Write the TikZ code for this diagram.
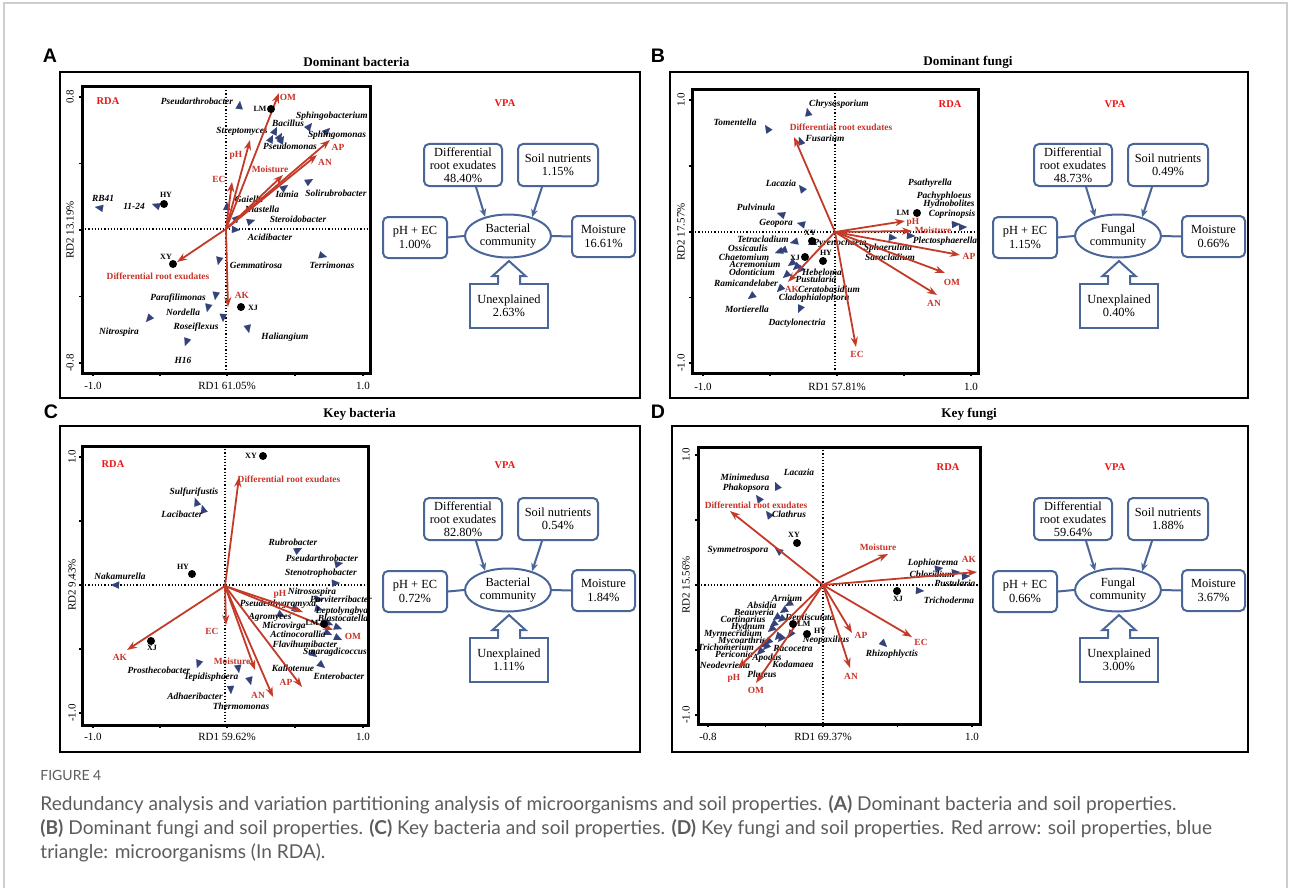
\documentclass[tikz,border=0pt]{standalone}
\usepackage{fontspec}
\setmainfont{Liberation Serif}
\newfontfamily\capfont{Lato}
\newfontfamily\panelfont{Liberation Sans}
\usetikzlibrary{arrows.meta,calc,shapes.geometric}
\definecolor{arrowred}{RGB}{196,58,40}
\definecolor{labred}{RGB}{200,52,40}
\definecolor{rdared}{RGB}{235,20,20}
\definecolor{trinavy}{RGB}{52,66,122}
\definecolor{vpablue}{RGB}{74,102,152}
\definecolor{capgray}{RGB}{92,92,92}
\definecolor{framegray}{RGB}{205,205,205}
\tikzset{
  panelbox/.style={draw=black,line width=1.3pt},
  plotbox/.style={draw=black,line width=1.5pt},
  tickmark/.style={draw=black,line width=0.8pt},
  zeroline/.style={densely dotted,line width=0.6pt},
  prop/.style={draw=arrowred,line width=0.9pt,-{Stealth[length=5pt,width=3.6pt]}},
  proplab/.style={text=labred,font=\bfseries\fontsize{4.7}{5}\selectfont,inner sep=0pt},
  splab/.style={font=\bfseries\itshape\fontsize{4.7}{5}\selectfont,inner sep=0pt},
  sptri/.style={draw=trinavy,line width=0.01pt,-{Triangle[length=4pt,width=3.6pt]}},
  site/.style={circle,fill=black,inner sep=0pt,minimum size=4pt},
  sitelab/.style={font=\bfseries\fontsize{4}{4.5}\selectfont,inner sep=0pt},
  ticklab/.style={font=\fontsize{5.5}{6}\selectfont,inner sep=0pt},
  tag/.style={text=rdared,font=\bfseries\fontsize{5.2}{6}\selectfont,inner sep=0pt},
  paneltitle/.style={font=\bfseries\fontsize{6.6}{7}\selectfont,inner sep=0pt,anchor=west},
  panelletter/.style={font=\panelfont\bfseries\fontsize{9.8}{10}\selectfont,inner sep=0pt},
  vpabox/.style={draw=vpablue,line width=1pt,rounded corners=2.5pt,align=center,
    font=\fontsize{6.2}{6.6}\selectfont,inner sep=0pt},
  vpaline/.style={draw=vpablue,line width=1pt},
  vpaarrow/.style={vpaline,-{Stealth[length=4pt,width=3.4pt]}},
  caption/.style={font=\capfont\fontsize{9.55}{10}\selectfont,text=capgray,inner sep=0pt,anchor=west}
}
\begin{document}
\begin{tikzpicture}[x=0.5pt,y=-0.5pt]
  \useasboundingbox (0,0) rectangle (1290,888);
  \draw[framegray,line width=0.6pt] (4,888) -- (4,3) -- (1287,3) -- (1287,888);

  % frames, titles and axes
  \draw[panelbox] (60,72) rectangle (640,398);
  \draw[panelbox] (670,72) rectangle (1248,398);
  \draw[panelbox] (60,426) rectangle (640,752);
  \draw[panelbox] (672,426) rectangle (1248,752);
  \node[panelletter] (letA) at (50,56) {A};
  \node[panelletter] (letB) at (658,56) {B};
  \node[panelletter] (letC) at (51,412) {C};
  \node[panelletter] (letD) at (658,412) {D};
  \node[paneltitle] (titA) at (303,62) {Dominant bacteria};
  \node[paneltitle] (titB) at (923,62) {Dominant fungi};
  \node[paneltitle] (titC) at (323,414) {Key bacteria};
  \node[paneltitle] (titD) at (941,414) {Key fungi};

  \foreach \p/\xa/\ya/\xb/\yb/\xz/\yz/\xl/\yl/\txl/\txm/\txr/\tyt/\tym/\tyb/\lxl/\lxm/\lxr/\lyt/\lyb/\xt/\yt in {
      A/82/87/370/373/226/229/386/70/93/227/363/97/230/363/-1.0/RD1 61.05\%/1.0/0.8/-0.8/108/101,
      B/692/90/978/373/835/232/387/681/703/837/971/100/232/363/-1.0/RD1 57.81\%/1.0/1.0/-1.0/950/104,
      C/82/446/368/725/225/585/737/72/93/227/363/457/585/713/-1.0/RD1 59.62\%/1.0/1.0/-1.0/113/464,
      D/698/447/980/724/823/585/737/686/708/823/972/455/585/715/-0.8/RD1 69.37\%/1.0/1.0/-1.0/948/467} {
    \draw[zeroline] (\xz,\ya) -- (\xz,\yb);
    \draw[zeroline] (\xa,\yz) -- (\xb,\yz);
    \draw[plotbox] (\xa,\ya) rectangle (\xb,\yb);
    \foreach \t in {\txl,\txm,\txr} \draw[tickmark] (\t,\yb) -- (\t,\yb+3);
    \foreach \t in {\tyt,\tym,\tyb} \draw[tickmark] (\xa,\t) -- (\xa-3,\t);
    \draw[tickmark] ({(\txl+\txm)/2},\yb) -- ({(\txl+\txm)/2},\yb+3);
    \draw[tickmark] ({(\txm+\txr)/2},\yb) -- ({(\txm+\txr)/2},\yb+3);
    \draw[tickmark] (\xa,{(\tyt+\tym)/2}) -- (\xa-3,{(\tyt+\tym)/2});
    \draw[tickmark] (\xa,{(\tym+\tyb)/2}) -- (\xa-3,{(\tym+\tyb)/2});
    \node[ticklab] (xl\p) at (\txl,\xl) {\lxl};
    \node[ticklab] (xm\p) at (\txm,\xl) {\lxm};
    \node[ticklab] (xr\p) at (\txr,\xl) {\lxr};
    \node[ticklab,rotate=90] (yt\p) at (\yl,\tyt) {\lyt};
    \node[ticklab,rotate=90] (yb\p) at (\yl,\tyb) {\lyb};
    \node[tag] (rda\p) at (\xt,\yt) {RDA};
  }
  \node[ticklab,rotate=90] (ymA) at (70,230) {RD2 13.19\%};
  \node[ticklab,rotate=90] (ymB) at (681,232) {RD2 17.57\%};
  \node[ticklab,rotate=90] (ymC) at (72,585) {RD2 9.43\%};
  \node[ticklab,rotate=90] (ymD) at (686,585) {RD2 15.56\%};

  % panel A
  \coordinate (oA) at (226,229);
  \foreach \px/\py in {240/101,312/123,277/127,282/133,273/135,330/128,284/136,288/185,313/179,95/207,
      152/204,227/202,240/215,255/220,240/230,218/265,327/257,215/300,207/312,146/322,223/322,249/333,185/346}
    \draw[sptri] ($(\px,\py)!2pt!(oA)$) -- (\px,\py);
  \foreach \lx/\ly/\lab [count=\i] in {197/101/Pseudarthrobacter,332/116/Sphingobacterium,288/123/Bacillus,
      242/131/Streptomyces,337/135/Sphingomonas,290/146/Pseudomonas,287/194/Iamia,336/193/Solirubrobacter,
      103/198/RB41,134/206/11-24,249/199/Gaiella,262/209/Niastella,298/219/Steroidobacter,270/237/Acidibacter,
      256/265/Gemmatirosa,332/265/Terrimonas,178/298/Parafilimonas,183/312/Nordella,119/332/Nitrospira,
      196/327/Roseiflexus,285/337/Haliangium,183/360/H16}
    \node[splab] (spA\i) at (\lx,\ly) {\lab};
  \foreach \tx/\ty/\lab/\lx/\ly [count=\i] in {279/93/OM/288/97,250/140/pH/236/155,232/182/EC/219/179,
      283/175/Moisture/270/169,330/140/AP/338/147,317/155/AN/325/162,
      177/262/Differential root exudates/158/276,228/307/AK/242/295} {
    \draw[prop] (oA) -- (\tx,\ty);
    \node[proplab] (prA\i) at (\lx,\ly) {\lab};
  }
  \foreach \nm/\dx/\dy/\lx/\ly in {LM/271/109/260/109,HY/164/204/166/195,XY/173/264/166/257,XJ/241/307/253/308} {
    \node[site] (site\nm A) at (\dx,\dy) {};
    \node[sitelab] (lab\nm A) at (\lx,\ly) {\nm};
  }

  % panel B
  \coordinate (oB) at (835,232);
  \foreach \px/\py in {807/108,765/125,799/137,799/185,777/213,797/223,960/224,967/227,897/238,915/236,
      808/245,790/243,775/253,779/252,788/266,793/270,797/273,783/278,777/292,748/299,798/313}
    \draw[sptri] ($(\px,\py)!2pt!(oB)$) -- (\px,\py);
  \foreach \lx/\ly/\lab [count=\i] in {839/104/Chrysosporium,735/122/Tomentella,825/138/Fusarium,
      781/183/Lacazia,756/207/Pulvinula,776/223/Geopora,930/183/Psathyrella,944/196/Pachyphloeus,
      949/204/Hydnobolites,952/214/Coprinopsis,945/241/Plectosphaerella,888/248/Sphaerulina,
      890/257/Sarocladium,840/243/Pyrenochaeta,763/239/Tetracladium,748/248/Ossicaulis,744/257/Chaetomium,
      755/264/Acremonium,752/272/Odonticium,822/272/Hebeloma,816/279/Pustularia,746/283/Ramicandelaber,
      829/289/Ceratobasidium,814/298/Cladophialophora,747/309/Mortierella,797/323/Dactylonectria}
    \node[splab] (spB\i) at (\lx,\ly) {\lab};
  \foreach \tx/\ty/\lab/\lx/\ly [count=\i] in {794/137/Differential root exudates/841/127,905/221/pH/913/222,
      912/231/Moisture/933/230,960/255/AP/969/256,945/273/OM/952/282,937/295/AN/934/303,
      856/347/EC/857/354,788/282/AK/792/289} {
    \draw[prop] (oB) -- (\tx,\ty);
    \node[proplab] (prB\i) at (\lx,\ly) {\lab};
  }
  \foreach \nm/\dx/\dy/\lx/\ly in {LM/917/213/903/213,XY/812/241/810/233,XJ/805/257/795/258,HY/823/261/826/253} {
    \node[site] (site\nm B) at (\dx,\dy) {};
    \node[sitelab] (lab\nm B) at (\lx,\ly) {\nm};
  }

  % panel C
  \coordinate (oC) at (225,586);
  \foreach \px/\py in {195/498,202/505,302/548,343/563,340/583,111/585,285/617,332/635,342/640,317/657,
      325/668,197/668,239/673,231/694,251/685,323/600,300/610,323/610,342/629,333/625}
    \draw[sptri] ($(\px,\py)!2pt!(oC)$) -- (\px,\py);
  \foreach \lx/\ly/\lab [count=\i] in {194/492/Sulfurifustis,182/514/Lacibacter,293/542/Rubrobacter,
      322/558/Pseudarthrobacter,321/573/Stenotrophobacter,120/576/Nakamurella,312/592/Nitrosospira,
      341/599/Parviterribacter,278/604/Pseudenhygromyxa,342/611/Leptolyngbya,270/617/Agromyces,
      343/618/Blastocatella,284/626/Microvirga,298/634/Actinocorallia,305/644/Flavihumibacter,
      335/652/Smaragdicoccus,293/668/Kallotenue,339/676/Enterobacter,159/670/Prosthecobacter,
      211/677/Tepidisphaera,195/696/Adhaeribacter,241/706/Thermomonas}
    \node[splab] (spC\i) at (\lx,\ly) {\lab};
  \foreach \tx/\ty/\lab/\lx/\ly [count=\i] in {239/477/Differential root exudates/289/479,303/612/pH/280/594,
      333/630/OM/353/636,226/625/EC/212/631,127/650/AK/120/657,255/670/Moisture/232/661,
      273/697/AN/258/695,302/687/AP/286/682} {
    \draw[prop] (oC) -- (\tx,\ty);
    \node[proplab] (prC\i) at (\lx,\ly) {\lab};
  }
  \foreach \nm/\dx/\dy/\lx/\ly in {XY/263/456/251/456,HY/192/574/183/567,XJ/151/641/152/648,LM/324/624/312/623} {
    \node[site] (site\nm C) at (\dx,\dy) {};
    \node[sitelab] (lab\nm C) at (\lx,\ly) {\nm};
  }

  % panel D
  \coordinate (oD) at (823,585);
  \foreach \px/\py in {775/482,756/495,766/511,775/548,943/568,960/572,970/576,924/591,887/647,785/606,
      780/613,773/620,778/622,770/627,768/632,775/640,778/642,788/638,765/645,760/648,757/655,763/650}
    \draw[sptri] ($(\px,\py)!2pt!(oD)$) -- (\px,\py);
  \foreach \lx/\ly/\lab [count=\i] in {799/472/Lacazia,745/477/Minimedusa,746/488/Phakopsora,
      789/514/Clathrus,738/550/Symmetrospora,933/563/Lophiotrema,932/574/Chloridium,955/583/Pustularia,
      949/600/Trichoderma,892/654/Rhizophlyctis,787/598/Arnium,762/605/Absidia,754/612/Beauveria,
      743/619/Cortinarius,810/617/Dentiscutata,748/627/Hydnum,733/634/Myrmecridium,742/641/Mycoarthris,
      826/640/Neopaxillus,726/647/Trichomerium,793/648/Racocetra,734/654/Periconia,767/658/Apodus,
      725/665/Neodevriesia,793/664/Kodamaea,762/674/Pluteus}
    \node[splab] (spD\i) at (\lx,\ly) {\lab};
  \foreach \tx/\ty/\lab/\lx/\ly [count=\i] in {730/511/Differential root exudates/756/505,
      888/554/Moisture/878/547,977/572/AK/969/559,912/637/EC/921/642,852/633/AP/861/635,
      850/668/AN/851/676,738/668/pH/734/678,756/683/OM/756/690} {
    \draw[prop] (oD) -- (\tx,\ty);
    \node[proplab] (prD\i) at (\lx,\ly) {\lab};
  }
  \foreach \nm/\dx/\dy/\lx/\ly in {XY/797/543/794/535,LM/793/624/804/624,HY/807/634/820/631,XJ/897/591/898/599} {
    \node[site] (site\nm D) at (\dx,\dy) {};
    \node[sitelab] (lab\nm D) at (\lx,\ly) {\nm};
  }

  % VPA diagrams
  \foreach \p/\dx/\dy/\vy/\comm/\vdre/\vsoil/\vphec/\vmoist/\vunex in {
      A/0/0/103/Bacterial/48.40/1.15/1.00/16.61/2.63,
      B/610/0/104/Fungal/48.73/0.49/1.15/0.66/0.40,
      C/0/354/465/Bacterial/82.80/0.54/0.72/1.84/1.11,
      D/610/354/467/Fungal/59.64/1.88/0.66/3.67/3.00} {
    \node[tag] (vpa\p) at (505+\dx,\vy) {VPA};
    \begin{scope}[shift={(\dx,\dy)}]
      \node[vpabox,minimum width=39pt,minimum height=21pt] (dre\p) at (463,165) {Differential\\root exudates\\\vdre\%};
      \node[vpabox,minimum width=40pt,minimum height=21pt] (soil\p) at (558,165) {Soil nutrients\\\vsoil\%};
      \node[vpabox,minimum width=32pt,minimum height=20.5pt] (phec\p) at (415,237.5) {pH + EC\\\vphec\%};
      \node[vpabox,minimum width=31.5pt,minimum height=20.5pt] (moist\p) at (603.5,236.5) {Moisture\\\vmoist\%};
      \node[vpabox,ellipse,minimum width=43pt,minimum height=21.5pt] (comm\p) at (508,236) {\comm\\community};
      \node[vpabox,rounded corners=0pt,minimum width=39pt,minimum height=22pt] (unex\p) at (509,306) {Unexplained\\\vunex\%};
    \end{scope}
    \draw[vpaarrow] ([xshift=6.5pt]dre\p.south) -- (comm\p.140);
    \draw[vpaarrow] ([xshift=-8pt]soil\p.south) -- (comm\p.38);
    \draw[vpaline] (phec\p.east) -- (comm\p.west);
    \draw[vpaline] (comm\p.east) -- (moist\p.east -| moist\p.west);
    \fill[white] ([xshift=-4.8pt,yshift=-0.8pt]unex\p.north) rectangle ([xshift=4.8pt,yshift=1pt]unex\p.north);
    \filldraw[vpaline,fill=white] ([xshift=-5.5pt]unex\p.north) -- ++(0,-7) -- ++(-5.5,0) -- ++(16.5,-15)
      -- ++(16.5,15) -- ++(-5.5,0) -- ++(0,7);
  }

  % caption
  \node[caption,font=\capfont\fontsize{7}{8}\selectfont] (figno) at (40,775) {FIGURE 4};
  \node[caption] (cap1) at (40,805) {Redundancy analysis and variation partitioning analysis of microorganisms and soil properties. \textbf{(A)} Dominant bacteria and soil properties.};
  \node[caption] (cap2) at (40,829) {\textbf{(B)} Dominant fungi and soil properties. \textbf{(C)} Key bacteria and soil properties. \textbf{(D)} Key fungi and soil properties. Red arrow: soil properties, blue};
  \node[caption] (cap3) at (40,853) {triangle: microorganisms (In RDA).};
\end{tikzpicture}
\end{document}
